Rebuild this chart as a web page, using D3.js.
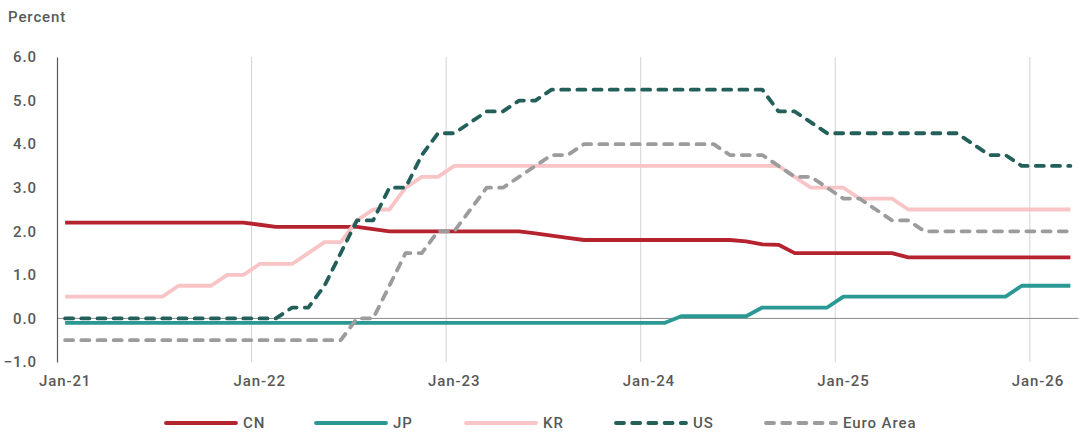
<!DOCTYPE html>
<html>
<head>
<meta charset="utf-8">
<script src="https://cdn.jsdelivr.net/npm/d3@7"></script>
<style>
  html, body { margin: 0; padding: 0; background: #ffffff; }
  svg text { font-family: Roboto, "Noto Sans", sans-serif; font-weight: 500; fill: #595959; }
</style>
</head>
<body>
<svg id="chart" width="1079" height="432"></svg>
<script>
// Monthly policy rates, Jan-2021 .. Mar-2026 (percent)
const startMonth = new Date(2021, 0, 1);
const endMonth = new Date(2026, 3, 1); // exclusive
const months = d3.timeMonth.range(startMonth, endMonth);

const cn = [
  2.2, 2.2, 2.2, 2.2, 2.2, 2.2, 2.2, 2.2, 2.2, 2.2, 2.2, 2.2,
  2.15, 2.1, 2.1, 2.1, 2.1, 2.1, 2.1, 2.05, 2.0, 2.0, 2.0, 2.0,
  2.0, 2.0, 2.0, 2.0, 2.0, 1.95, 1.9, 1.85, 1.8, 1.8, 1.8, 1.8,
  1.8, 1.8, 1.8, 1.8, 1.8, 1.8, 1.77, 1.7, 1.69, 1.5, 1.5, 1.5,
  1.5, 1.5, 1.5, 1.5, 1.4, 1.4, 1.4, 1.4, 1.4, 1.4, 1.4, 1.4,
  1.4, 1.4, 1.4
];
const jp = [
  -0.1, -0.1, -0.1, -0.1, -0.1, -0.1, -0.1, -0.1, -0.1, -0.1, -0.1, -0.1,
  -0.1, -0.1, -0.1, -0.1, -0.1, -0.1, -0.1, -0.1, -0.1, -0.1, -0.1, -0.1,
  -0.1, -0.1, -0.1, -0.1, -0.1, -0.1, -0.1, -0.1, -0.1, -0.1, -0.1, -0.1,
  -0.1, -0.1, 0.05, 0.05, 0.05, 0.05, 0.05, 0.25, 0.25, 0.25, 0.25, 0.25,
  0.5, 0.5, 0.5, 0.5, 0.5, 0.5, 0.5, 0.5, 0.5, 0.5, 0.5, 0.75,
  0.75, 0.75, 0.75
];
const kr = [
  0.5, 0.5, 0.5, 0.5, 0.5, 0.5, 0.5, 0.75, 0.75, 0.75, 1.0, 1.0,
  1.25, 1.25, 1.25, 1.5, 1.75, 1.75, 2.25, 2.5, 2.5, 3.0, 3.25, 3.25,
  3.5, 3.5, 3.5, 3.5, 3.5, 3.5, 3.5, 3.5, 3.5, 3.5, 3.5, 3.5,
  3.5, 3.5, 3.5, 3.5, 3.5, 3.5, 3.5, 3.5, 3.5, 3.25, 3.0, 3.0,
  3.0, 2.75, 2.75, 2.75, 2.5, 2.5, 2.5, 2.5, 2.5, 2.5, 2.5, 2.5,
  2.5, 2.5, 2.5
];
const us = [
  0, 0, 0, 0, 0, 0, 0, 0, 0, 0, 0, 0,
  0, 0, 0.25, 0.25, 0.75, 1.5, 2.25, 2.25, 3.0, 3.0, 3.75, 4.25,
  4.25, 4.5, 4.75, 4.75, 5.0, 5.0, 5.25, 5.25, 5.25, 5.25, 5.25, 5.25,
  5.25, 5.25, 5.25, 5.25, 5.25, 5.25, 5.25, 5.25, 4.75, 4.75, 4.5, 4.25,
  4.25, 4.25, 4.25, 4.25, 4.25, 4.25, 4.25, 4.25, 4.0, 3.75, 3.75, 3.5,
  3.5, 3.5, 3.5
];
const euroArea = [
  -0.5, -0.5, -0.5, -0.5, -0.5, -0.5, -0.5, -0.5, -0.5, -0.5, -0.5, -0.5,
  -0.5, -0.5, -0.5, -0.5, -0.5, -0.5, 0.0, 0.0, 0.75, 1.5, 1.5, 2.0,
  2.0, 2.5, 3.0, 3.0, 3.25, 3.5, 3.75, 3.75, 4.0, 4.0, 4.0, 4.0,
  4.0, 4.0, 4.0, 4.0, 4.0, 3.75, 3.75, 3.75, 3.5, 3.25, 3.25, 3.0,
  2.75, 2.75, 2.5, 2.25, 2.25, 2.0, 2.0, 2.0, 2.0, 2.0, 2.0, 2.0,
  2.0, 2.0, 2.0
];

const yTicks = [-1, 0, 1, 2, 3, 4, 5, 6];
const seriesNames = ["CN", "JP", "KR", "US", "Euro Area"];
const seriesColors = ["#b5232f", "#2a9893", "#f9c4c6", "#24605a", "#9c9c9f"];
const seriesDashed = [false, false, false, true, true];
const seriesValues = [cn, jp, kr, us, euroArea];

const series = seriesNames.map((name, i) => ({
  name,
  color: seriesColors[i],
  dashed: seriesDashed[i],
  values: seriesValues[i]
}));

const svg = d3.select("#chart");
const plot = { left: 57, right: 1078.5, top: 57, bottom: 362 };

const x = d3.scaleBand()
  .domain(months)
  .range([plot.left, plot.right])
  .paddingInner(0)
  .paddingOuter(0);
const xc = d => x(d) + x.bandwidth() / 2;

const y = d3.scaleLinear()
  .domain([-1, 6])
  .range([plot.bottom, plot.top]);

const januaries = months.filter(m => m.getMonth() === 0);
const fmtMonth = d3.timeFormat("%b-%y");
const textSpacing = "0.9px";

// Vertical gridlines at the start of each year
svg.append("g")
  .selectAll("line")
  .data(januaries.slice(1))
  .join("line")
  .attr("x1", d => x(d)).attr("x2", d => x(d))
  .attr("y1", plot.top).attr("y2", plot.bottom)
  .attr("stroke", "#d4d4d4")
  .attr("stroke-width", 1);

// Zero line
svg.append("line")
  .attr("x1", plot.left).attr("x2", plot.right)
  .attr("y1", y(0)).attr("y2", y(0))
  .attr("stroke", "#8c8c8c")
  .attr("stroke-width", 1);

// Y axis
const yAxis = svg.append("g")
  .attr("transform", `translate(${plot.left},0)`)
  .call(d3.axisLeft(y).tickValues(yTicks).tickFormat(d3.format(".1f")).tickSize(0).tickPadding(20));
yAxis.select(".domain").attr("stroke", "#595959").attr("stroke-width", 1.2);
yAxis.selectAll("text")
  .attr("font-size", 15)
  .attr("letter-spacing", textSpacing)
  .attr("fill", "#595959")
  .style("font-family", "Roboto, sans-serif");

// X axis labels (centred on each January's point)
const xAxis = svg.append("g")
  .attr("transform", `translate(0,${plot.bottom})`)
  .call(d3.axisBottom(x).tickValues(januaries).tickFormat(fmtMonth).tickSize(0).tickPadding(13));
xAxis.select(".domain").remove();
xAxis.selectAll("text")
  .attr("font-size", 15)
  .attr("letter-spacing", textSpacing)
  .attr("fill", "#595959")
  .style("font-family", "Roboto, sans-serif");

// Series lines
const line = d3.line()
  .x((d, i) => xc(months[i]))
  .y(d => y(d));

svg.append("g")
  .selectAll("path")
  .data(series)
  .join("path")
  .attr("d", s => line(s.values))
  .attr("fill", "none")
  .attr("stroke", s => s.color)
  .attr("stroke-width", 3.8)
  .attr("stroke-linejoin", "round")
  .attr("stroke-linecap", s => s.dashed ? "round" : "butt")
  .attr("stroke-dasharray", s => s.dashed ? "8,8.2" : null);

// Unit label
svg.append("text")
  .attr("x", 8).attr("y", 22)
  .attr("font-size", 15)
  .attr("letter-spacing", textSpacing)
  .text("Percent");

// Legend
const legend = svg.append("g").attr("transform", "translate(166,423)");
const item = legend.selectAll("g")
  .data(series)
  .join("g")
  .attr("transform", (d, i) => `translate(${i * 150},0)`);
item.append("line")
  .attr("x1", 0).attr("x2", 70)
  .attr("y1", 0).attr("y2", 0)
  .attr("stroke", d => d.color)
  .attr("stroke-width", 3.8)
  .attr("stroke-linecap", "round")
  .attr("stroke-dasharray", d => d.dashed ? "8,8.2" : null);
item.append("text")
  .attr("x", 77)
  .attr("y", 0)
  .attr("dy", "0.36em")
  .attr("font-size", 15)
  .attr("letter-spacing", textSpacing)
  .text(d => d.name);
</script>
</body>
</html>
